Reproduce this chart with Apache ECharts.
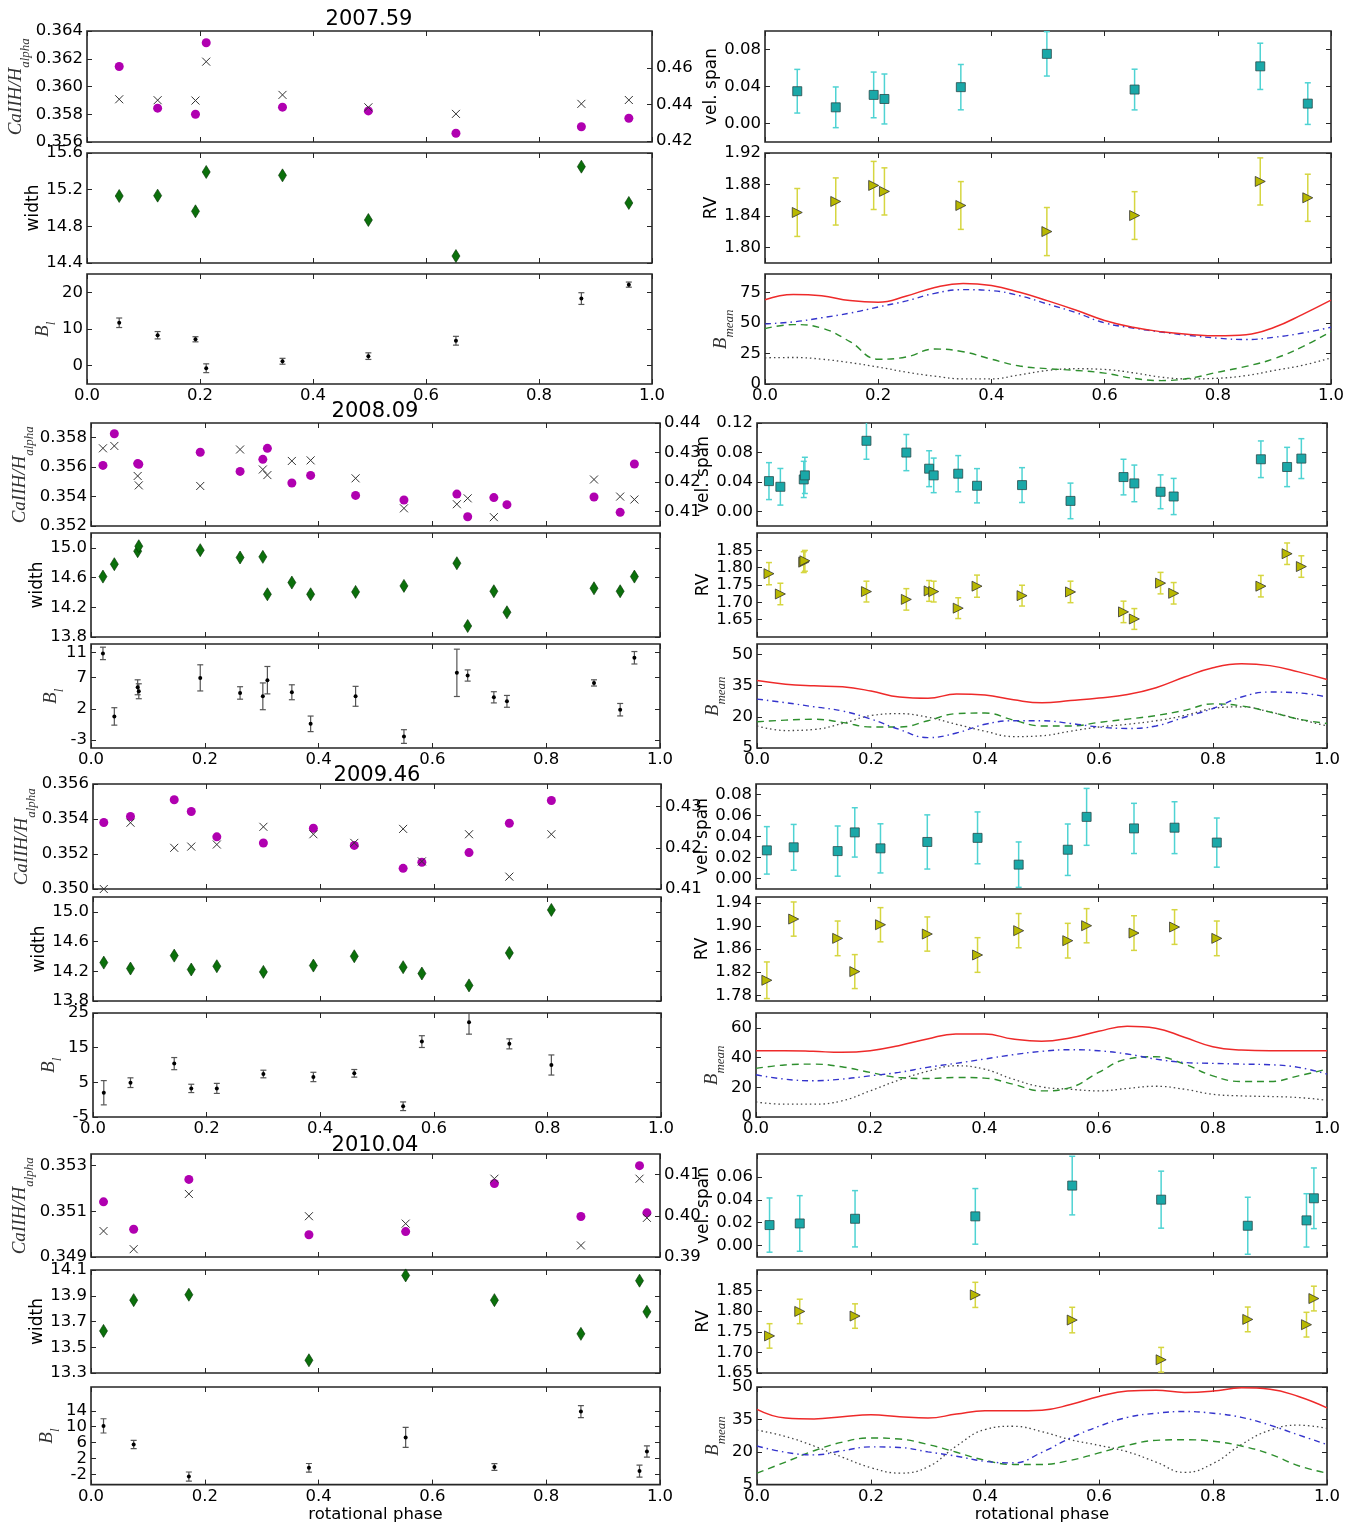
<!DOCTYPE html>
<html><head><meta charset="utf-8">
<script src="https://cdn.jsdelivr.net/npm/echarts@6/dist/echarts.min.js"></script>
<style>html,body{margin:0;padding:0;background:#fff}#c{width:1357px;height:1524px}</style>
</head><body><div id="c"></div><script>
// ---------------- DATA ----------------
const phase_ticks = [0.0, 0.2, 0.4, 0.6, 0.8, 1.0];
const bm_phase = [0,0.05,0.1,0.15,0.2,0.25,0.3,0.35,0.4,0.45,0.5,0.55,0.6,0.65,0.7,0.75,0.8,0.85,0.9,0.95,1.0];

// 2007.59
const e1_phase = [0.057, 0.125, 0.192, 0.211, 0.346, 0.498, 0.653, 0.875, 0.959];
const e1_caii = [0.36144, 0.35844, 0.3580, 0.36315, 0.35851, 0.35824, 0.35663, 0.3571, 0.35771];
const e1_cross = [0.4429, 0.4424, 0.4422, 0.4635, 0.4453, 0.4385, 0.4349, 0.4404, 0.4425];
const e1_width = [15.131, 15.135, 14.964, 15.393, 15.356, 14.869, 14.476, 15.451, 15.055];
const e1_bl = [11.7, 8.3, 7.2, -0.7, 1.2, 2.6, 6.8, 18.3, 22.1];
const e1_bl_err = [1.3, 1.0, 0.7, 1.2, 0.8, 0.9, 1.2, 1.6, 0.7];
const e1_vspan = [0.0349, 0.0175, 0.0309, 0.0265, 0.0393, 0.0753, 0.0367, 0.0618, 0.0215];
const e1_vspan_err = [0.0236, 0.022, 0.0247, 0.027, 0.0245, 0.024, 0.022, 0.025, 0.0225];
const e1_rv = [1.8443, 1.8583, 1.8787, 1.8711, 1.8532, 1.82, 1.8404, 1.8838, 1.8630];
const e1_rv_err = [0.0305, 0.030, 0.0306, 0.030, 0.0304, 0.0306, 0.0304, 0.030, 0.030];
const e1_bm_red = [68.9,73.3,72.2,68.3,66.9,72.0,79.0,82.3,80.5,75.0,68.0,60.3,52.0,46.4,42.8,40.6,39.4,40.3,46.4,57.0,68.6];
const e1_bm_blue = [49.2,50.8,54.2,58.0,63.0,68.0,74.2,77.2,76.4,72.2,65.3,58.3,50.0,45.8,42.5,39.7,37.5,36.4,38.3,41.7,46.4];
const e1_bm_green = [45.3,48.6,45.8,34.7,20.3,22.2,28.6,26.4,20.3,14.7,12.5,11.1,8.9,4.7,2.8,4.7,9.7,14.4,20.8,30.6,43.0];
const e1_bm_black = [21.4,21.7,20.3,17.5,13.9,9.7,6.4,4.2,4.2,7.5,11.1,12.5,11.9,9.2,5.6,4.2,4.7,6.9,11.1,15.3,21.4];
const e1_caii_ticks = [0.356, 0.358, 0.360, 0.362, 0.364];
const e1_cross_ticks = [0.42, 0.44, 0.46];
const e1_width_ticks = [14.4, 14.8, 15.2, 15.6];
const e1_bl_ticks = [0, 10, 20];
const e1_vspan_ticks = [0.00, 0.04, 0.08];
const e1_rv_ticks = [1.80, 1.84, 1.88, 1.92];
const e1_bm_ticks = [0, 25, 50, 75];

// 2008.09
const e2_phase = [0.021,0.041,0.082,0.084,0.192,0.262,0.302,0.310,0.353,0.386,0.465,0.550,0.643,0.662,0.708,0.731,0.884,0.930,0.955];
const e2_caii = [0.35612,0.35827,0.35624,0.35620,0.35701,0.35571,0.35653,0.35728,0.35492,0.35544,0.35408,0.35377,0.35417,0.35263,0.35393,0.35345,0.35397,0.35293,0.35621];
const e2_cross = [0.4314,0.4322,0.4220,0.4188,0.4186,0.4310,0.4242,0.4223,0.4271,0.4273,0.4212,0.4110,0.4124,0.4144,0.4080,null,0.4208,0.4150,0.4140];
const e2_width = [14.613,14.780,14.955,15.022,14.969,14.870,14.879,14.375,14.533,14.375,14.407,14.488,14.793,13.948,14.416,14.133,14.456,14.416,14.613];
const e2_bl = [10.89,0.77,5.45,4.81,6.96,4.54,4.0,6.59,4.65,-0.42,4.0,-2.46,7.77,7.34,3.84,3.19,6.15,1.85,10.19];
const e2_bl_err = [1.0,1.4,1.2,1.2,2.1,1.0,2.15,2.2,1.2,1.25,1.6,1.1,3.8,0.9,0.9,0.95,0.5,1.0,1.0];
const e2_vspan = [0.0410,0.0333,0.0433,0.0488,0.0958,0.0798,0.0579,0.0488,0.0511,0.0347,0.0356,0.0141,0.0465,0.0379,0.0265,0.0201,0.0707,0.0602,0.0716];
const e2_vspan_err = [0.0251,0.0249,0.0246,0.0246,0.0251,0.0246,0.0244,0.0235,0.0246,0.0233,0.0237,0.0242,0.0242,0.0249,0.023,0.0246,0.0249,0.0267,0.0271];
const e2_rv = [1.7827,1.7241,1.8159,1.8198,1.7310,1.7085,1.7329,1.7310,1.6832,1.7466,1.7193,1.7300,1.6724,1.6520,1.7554,1.7261,1.7466,1.8402,1.8032];
const e2_rv_err = [0.032,0.031,0.03,0.03,0.030,0.031,0.030,0.030,0.030,0.032,0.030,0.031,0.031,0.030,0.031,0.031,0.031,0.031,0.031];
const e2_bm_red = [37.4,35.7,34.9,34.4,32.4,29.5,28.9,31.0,30.5,28.2,26.7,27.8,29.0,30.7,34.0,39.1,43.6,45.5,44.6,41.6,37.9];
const e2_bm_blue = [28.5,26.8,24.8,22.8,18.9,13.9,10.0,12.2,16.4,18.1,18.1,16.8,15.1,14.4,15.6,19.8,24.0,29.5,31.9,31.5,29.5];
const e2_bm_green = [17.6,18.4,18.8,17.3,15.1,15.1,18.1,21.5,21.8,18.4,15.6,15.6,17.3,18.9,20.6,23.1,26.2,25.2,22.3,18.9,16.8];
const e2_bm_black = [15.6,13.4,13.9,16.8,20.6,21.5,19.8,16.4,13.1,10.5,10.9,13.1,15.1,16.4,18.1,20.6,24.0,24.8,22.3,18.9,15.6];
const e2_caii_ticks = [0.352, 0.354, 0.356, 0.358];
const e2_cross_ticks = [0.41, 0.42, 0.43, 0.44];
const e2_width_ticks = [13.8, 14.2, 14.6, 15.0];
const e2_bl_ticks = [-3, 2, 7, 11];
const e2_vspan_ticks = [0.00, 0.04, 0.08, 0.12];
const e2_rv_ticks = [1.65, 1.70, 1.75, 1.80, 1.85];
const e2_bm_ticks = [5, 20, 35, 50];

// 2009.46
const e3_phase = [0.019,0.066,0.143,0.173,0.218,0.300,0.388,0.460,0.546,0.579,0.662,0.733,0.807];
const e3_caii = [0.3538,0.35414,0.3551,0.35443,0.35298,0.35263,0.35347,0.35249,0.35118,0.35153,0.35208,0.35376,0.35506];
const e3_cross = [0.4100,0.4261,0.4200,0.4203,0.4208,0.4251,0.4233,0.4212,0.4246,0.4167,0.4233,0.4130,0.4233];
const e3_width = [14.317,14.237,14.411,14.224,14.268,14.192,14.277,14.402,14.255,14.170,14.010,14.447,15.026];
const e3_bl = [2.0,4.9,10.4,3.25,3.25,7.4,6.55,7.6,-1.9,16.75,22.3,16.1,10.0];
const e3_bl_err = [3.5,1.4,1.75,1.2,1.45,1.1,1.35,1.1,1.25,1.7,3.4,1.45,2.9];
const e3_vspan = [0.0268,0.0297,0.0261,0.0439,0.0287,0.0348,0.0387,0.0132,0.0274,0.0587,0.0477,0.0484,0.0342];
const e3_vspan_err = [0.0226,0.0218,0.0239,0.0235,0.0234,0.0258,0.0247,0.0216,0.0245,0.0271,0.0239,0.0247,0.0234];
const e3_rv = [1.8059,1.9118,1.8784,1.8209,1.9020,1.8859,1.8496,1.8917,1.8744,1.9003,1.8876,1.8980,1.8784];
const e3_rv_err = [0.0317,0.0296,0.030,0.0294,0.0296,0.0296,0.030,0.0296,0.030,0.0296,0.030,0.030,0.030];
const e3_bm_red = [44.6,44.6,44.2,43.5,44.6,48.0,52.5,55.9,55.9,52.5,51.0,53.2,57.7,61.1,59.8,53.7,47.3,45.1,44.6,44.6,44.6];
const e3_bm_blue = [28.4,25.5,24.4,25.5,27.7,30.0,33.4,36.1,39.0,41.9,44.2,45.3,44.6,42.4,39.0,36.7,36.1,35.6,35.2,33.4,28.9];
const e3_bm_green = [32.7,35.0,35.6,33.8,30.0,26.6,25.9,26.6,26.2,22.1,17.6,19.8,30.0,39.0,40.6,35.6,27.7,23.9,23.9,27.7,32.2];
const e3_bm_black = [10.1,8.6,8.6,10.8,17.6,24.8,30.7,34.5,32.2,25.5,20.3,18.7,17.6,19.2,20.7,18.7,15.3,14.2,13.8,13.1,11.3];
const e3_caii_ticks = [0.350, 0.352, 0.354, 0.356];
const e3_cross_ticks = [0.41, 0.42, 0.43];
const e3_width_ticks = [13.8, 14.2, 14.6, 15.0];
const e3_bl_ticks = [-5, 5, 15, 25];
const e3_vspan_ticks = [0.00, 0.02, 0.04, 0.06, 0.08];
const e3_rv_ticks = [1.78, 1.82, 1.86, 1.90, 1.94];
const e3_bm_ticks = [0, 20, 40, 60];

// 2010.04
const e4_phase = [0.022,0.075,0.172,0.383,0.553,0.709,0.861,0.964,0.977];
const e4_caii = [0.35141,0.35021,0.35239,0.34997,0.35011,0.35221,0.35077,0.35299,0.35093];
const e4_cross = [0.3963,0.3919,0.4053,0.3999,0.3981,0.4090,0.3928,0.4090,0.3995];
const e4_width = [13.627,13.866,13.908,13.399,14.058,13.866,13.604,14.017,13.775];
const e4_bl = [10.2,5.5,-2.57,-0.38,7.3,-0.14,13.8,-1.2,3.74];
const e4_bl_err = [1.8,1.05,1.15,1.1,2.5,0.85,1.5,1.5,1.4];
const e4_vspan = [0.0179,0.0193,0.0234,0.0255,0.0524,0.0401,0.0173,0.0220,0.0413];
const e4_vspan_err = [0.0237,0.0243,0.0246,0.0243,0.0256,0.0249,0.0249,0.0233,0.0265];
const e4_rv = [1.74,1.7994,1.7882,1.8396,1.7785,1.6821,1.7801,1.7673,1.8307];
const e4_rv_err = [0.0297,0.0297,0.0297,0.0305,0.031,0.03,0.030,0.030,0.030];
const e4_bm_red = [39.7,35.7,35.3,36.3,37.2,36.3,35.7,37.5,39.0,39.0,39.3,41.9,45.6,48.1,48.5,47.5,48.1,49.6,49.0,45.6,40.4];
const e4_bm_blue = [22.8,19.9,18.7,20.6,22.4,22.1,20.1,18.1,15.7,15.0,19.9,26.5,31.9,36.0,37.9,38.7,37.9,36.0,32.4,27.9,23.5];
const e4_bm_green = [10.3,15.4,20.6,24.6,26.5,26.0,23.5,19.9,16.2,14.3,14.3,16.2,19.6,23.1,25.4,25.7,25.0,22.8,19.1,13.7,10.3];
const e4_bm_black = [30.1,27.2,22.8,17.6,12.8,10.3,13.2,22.8,30.4,31.9,29.4,25.7,23.1,20.1,15.4,10.6,14.7,23.5,30.1,32.4,30.9];
const e4_caii_ticks = [0.349, 0.351, 0.353];
const e4_cross_ticks = [0.39, 0.40, 0.41];
const e4_width_ticks = [13.3, 13.5, 13.7, 13.9, 14.1];
const e4_bl_ticks = [-2, 2, 6, 10, 14];
const e4_vspan_ticks = [0.00, 0.02, 0.04, 0.06];
const e4_rv_ticks = [1.65, 1.70, 1.75, 1.80, 1.85];
const e4_bm_ticks = [5, 20, 35, 50];

// ---------------- CHART ----------------
const SANS = 'DejaVu Sans';
const FS = 16.5;
const option = {animation:false, backgroundColor:'#ffffff', grid:[], xAxis:[], yAxis:[], series:[], graphic:[]};
const fmt = d => (v => Number(v).toFixed(d));
const tickStyle = {inside:true, length:5, lineStyle:{color:'#262626', width:1}};
const noLine = {show:false, onZero:false};
const labelBase = {fontFamily:SANS, fontSize:FS, color:'#000', margin:4, lineHeight:12, hideOverlap:false, showMinLabel:true, showMaxLabel:true};
const mathStyle = {rich:{
  m:{fontFamily:'Liberation Serif', fontStyle:'italic', fontSize:19, lineHeight:19, verticalAlign:'top', color:'#333'},
  s:{fontFamily:'Liberation Serif', fontStyle:'italic', fontSize:13, lineHeight:13, verticalAlign:'bottom', color:'#333'},
  g:{fontSize:2, lineHeight:25, verticalAlign:'bottom'}
}};
const sansName = {fontFamily:SANS, fontSize:17, color:'#000'};
const evens = a => a.filter((v, i) => i % 2 === 0);
const odds = a => a.filter((v, i) => i % 2 === 1);

function panel(box, top, height, cfg) {
  const gi = option.grid.length;
  option.grid.push({left:box.left, top:top, width:box.width, height:height, show:true,
    borderColor:'#262626', borderWidth:1.6, backgroundColor:'rgba(0,0,0,0)'});
  const xi = option.xAxis.length;
  option.xAxis.push({type:'value', gridIndex:gi, position:'bottom', min:0, max:1,
    axisLine:noLine, splitLine:{show:false},
    axisTick:Object.assign({}, tickStyle, {customValues:phase_ticks}),
    axisLabel:Object.assign({show:!!cfg.xLabels, customValues:phase_ticks, formatter:fmt(1)}, labelBase, {lineHeight:16}),
    name:cfg.xName || '', nameLocation:'middle', nameGap:19, nameTextStyle:{fontFamily:SANS, fontSize:FS, color:'#000'}});
  option.xAxis.push({type:'value', gridIndex:gi, position:'top', min:0, max:1,
    axisLine:noLine, splitLine:{show:false},
    axisTick:Object.assign({}, tickStyle, {customValues:phase_ticks}), axisLabel:{show:false}});
  const yi = option.yAxis.length;
  // main left axis: ticks at every value, labels at alternate values (others on a companion axis)
  option.yAxis.push({type:'value', gridIndex:gi, position:'left', min:cfg.y[0], max:cfg.y[1],
    axisLine:noLine, splitLine:{show:false},
    axisTick:Object.assign({}, tickStyle, {customValues:cfg.ticks}),
    axisLabel:Object.assign({customValues:evens(cfg.ticks), formatter:fmt(cfg.dec)}, labelBase),
    name:cfg.name, nameLocation:'middle', nameRotate:90, nameGap:cfg.gap, nameTextStyle:cfg.nameStyle});
  if (cfg.twin) {
    option.yAxis.push({type:'value', gridIndex:gi, position:'right', min:cfg.twin.y[0], max:cfg.twin.y[1],
      axisLine:noLine, splitLine:{show:false},
      axisTick:Object.assign({}, tickStyle, {customValues:cfg.twin.ticks}),
      axisLabel:Object.assign({customValues:cfg.twin.ticks, formatter:fmt(2)}, labelBase)});
  } else {
    option.yAxis.push({type:'value', gridIndex:gi, position:'right', min:cfg.y[0], max:cfg.y[1],
      axisLine:noLine, splitLine:{show:false},
      axisTick:Object.assign({}, tickStyle, {customValues:cfg.ticks}), axisLabel:{show:false}});
  }
  // companion left axis carrying the remaining labels
  option.yAxis.push({type:'value', gridIndex:gi, position:'left', offset:0, min:cfg.y[0], max:cfg.y[1],
    axisLine:noLine, splitLine:{show:false}, axisTick:{show:false},
    axisLabel:Object.assign({customValues:odds(cfg.ticks), formatter:fmt(cfg.dec)}, labelBase)});
  return {xi:xi, yi:yi, yi2:yi+1};
}

function scatter(ax, xs, ys, style, twin) {
  const data = [];
  xs.forEach((x, i) => { if (ys[i] != null) data.push([x, ys[i]]); });
  option.series.push(Object.assign({type:'scatter', xAxisIndex:ax.xi, yAxisIndex:twin ? ax.yi2 : ax.yi,
    data:data, z:3, silent:true, clip:false}, style));
}

function errbars(ax, xs, ys, es, color, lw) {
  option.series.push({type:'custom', xAxisIndex:ax.xi, yAxisIndex:ax.yi, clip:true, z:2, silent:true,
    data:xs.map((x, i) => [x, ys[i], es[i]]), encode:{x:0, y:1},
    renderItem:function(params, api) {
      const x = api.value(0), y = api.value(1), e = api.value(2);
      const lo = api.coord([x, y - e]), hi = api.coord([x, y + e]);
      const st = {stroke:color, lineWidth:lw, fill:null};
      const c = 3;
      return {type:'group', children:[
        {type:'line', shape:{x1:lo[0], y1:lo[1], x2:hi[0], y2:hi[1]}, style:st},
        {type:'line', shape:{x1:lo[0]-c, y1:lo[1], x2:lo[0]+c, y2:lo[1]}, style:st},
        {type:'line', shape:{x1:hi[0]-c, y1:hi[1], x2:hi[0]+c, y2:hi[1]}, style:st}
      ]};
    }});
}

function curve(ax, ys, color, type, width) {
  option.series.push({type:'line', xAxisIndex:ax.xi, yAxisIndex:ax.yi, data:bm_phase.map((x, i) => [x, ys[i]]),
    showSymbol:false, smooth:0.45, silent:true, z:3,
    lineStyle:{color:color, type:type, width:width, opacity:1}});
}

const circleStyle = {symbol:'circle', symbolSize:9, itemStyle:{color:'#b000b0', opacity:1}};
const crossStyle = {symbol:'path://M0,0L10,10M10,0L0,10', symbolSize:8, z:4,
  itemStyle:{color:'rgba(0,0,0,0)', borderColor:'#333', borderWidth:1, opacity:1}};
const diamondStyle = {symbol:'diamond', symbolSize:[8, 13], itemStyle:{color:'#0b700b', borderColor:'#033303', borderWidth:0.6, opacity:1}};
const dotStyle = {symbol:'circle', symbolSize:4, itemStyle:{color:'#000', opacity:1}};
const squareStyle = {symbol:'rect', symbolSize:9, itemStyle:{color:'#1aa8a8', borderColor:'#2a4a4a', borderWidth:0.8, opacity:1}};
const triStyle = {symbol:'triangle', symbolSize:[10, 10], symbolRotate:-90, itemStyle:{color:'#b8b800', borderColor:'#333', borderWidth:0.8, opacity:1}};

const G = {ca:51, width:43, bl:25, vel:44, rv:44, bm:27};

function buildEpoch(E) {
  const rA = E.rows[0], rB = E.rows[1], rC = E.rows[2];
  let ax = panel(E.L, rA[0], rA[1], {y:E.caiiRange, ticks:E.caiiTicks, dec:3,
    name:'{m|CaIIH/H}{s|alpha}{g| }', gap:G.ca, nameStyle:mathStyle, twin:{y:E.crossRange, ticks:E.crossTicks}});
  scatter(ax, E.phase, E.caii, circleStyle);
  scatter(ax, E.phase, E.cross, crossStyle, true);
  ax = panel(E.L, rB[0], rB[1], {y:E.widthRange, ticks:E.widthTicks, dec:1, name:'width', gap:G.width, nameStyle:sansName});
  scatter(ax, E.phase, E.width, diamondStyle);
  ax = panel(E.L, rC[0], rC[1], {y:E.blRange, ticks:E.blTicks, dec:0, name:'{m|B}{s|l}{g| }', gap:G.bl, nameStyle:mathStyle,
    xLabels:true, xName:E.last ? 'rotational phase' : ''});
  errbars(ax, E.phase, E.bl, E.blErr, '#555', 1.2);
  scatter(ax, E.phase, E.bl, dotStyle);

  ax = panel(E.R, rA[0], rA[1], {y:E.vsRange, ticks:E.vsTicks, dec:2, name:'vel. span', gap:G.vel, nameStyle:sansName});
  errbars(ax, E.phase, E.vs, E.vsErr, '#4fd3d3', 1.5);
  scatter(ax, E.phase, E.vs, squareStyle);
  ax = panel(E.R, rB[0], rB[1], {y:E.rvRange, ticks:E.rvTicks, dec:2, name:'RV', gap:G.rv, nameStyle:sansName});
  errbars(ax, E.phase, E.rv, E.rvErr, '#d6d640', 1.5);
  scatter(ax, E.phase, E.rv, triStyle);
  ax = panel(E.R, rC[0], rC[1], {y:E.bmRange, ticks:E.bmTicks, dec:0, name:'{m|B}{s|mean}{g| }', gap:G.bm, nameStyle:mathStyle,
    xLabels:true, xName:E.last ? 'rotational phase' : ''});
  curve(ax, E.bmBlack, '#444', [1.5, 3], 1.3);
  curve(ax, E.bmGreen, '#2e8f2e', [7, 5], 1.4);
  curve(ax, E.bmBlue, '#3434cc', [6, 4, 1.5, 4], 1.4);
  curve(ax, E.bmRed, '#ee2a2a', 'solid', 1.5);

  option.graphic.push({type:'text', x:E.titleX, y:E.titleY, silent:true,
    style:{text:E.title, fontFamily:SANS, fontSize:21, fill:'#000', align:'center', verticalAlign:'middle', textAlign:'center', textVerticalAlign:'middle'}});
}

buildEpoch({title:'2007.59', titleX:369, titleY:20, L:{left:87, width:565}, R:{left:765, width:566},
  rows:[[31,111],[153,110],[274,110]],
  phase:e1_phase, caii:e1_caii, cross:e1_cross, width:e1_width, bl:e1_bl, blErr:e1_bl_err,
  vs:e1_vspan, vsErr:e1_vspan_err, rv:e1_rv, rvErr:e1_rv_err,
  bmRed:e1_bm_red, bmBlue:e1_bm_blue, bmGreen:e1_bm_green, bmBlack:e1_bm_black,
  caiiRange:[0.356, 0.364], caiiTicks:e1_caii_ticks, crossRange:[0.4195, 0.4803], crossTicks:e1_cross_ticks,
  widthRange:[14.4, 15.6], widthTicks:e1_width_ticks, blRange:[-5, 25], blTicks:e1_bl_ticks,
  vsRange:[-0.02, 0.10], vsTicks:e1_vspan_ticks, rvRange:[1.78, 1.92], rvTicks:e1_rv_ticks,
  bmRange:[0, 90], bmTicks:e1_bm_ticks});

buildEpoch({title:'2008.09', titleX:375, titleY:412, L:{left:91, width:569}, R:{left:757, width:570},
  rows:[[423,103],[533,104],[644,104]],
  phase:e2_phase, caii:e2_caii, cross:e2_cross, width:e2_width, bl:e2_bl, blErr:e2_bl_err,
  vs:e2_vspan, vsErr:e2_vspan_err, rv:e2_rv, rvErr:e2_rv_err,
  bmRed:e2_bm_red, bmBlue:e2_bm_blue, bmGreen:e2_bm_green, bmBlack:e2_bm_black,
  caiiRange:[0.352, 0.359], caiiTicks:e2_caii_ticks, crossRange:[0.405, 0.44], crossTicks:e2_cross_ticks,
  widthRange:[13.8, 15.2], widthTicks:e2_width_ticks, blRange:[-4.3, 12.4], blTicks:e2_bl_ticks,
  vsRange:[-0.02, 0.12], vsTicks:e2_vspan_ticks, rvRange:[1.60, 1.90], rvTicks:e2_rv_ticks,
  bmRange:[5, 55], bmTicks:e2_bm_ticks});

buildEpoch({title:'2009.46', titleX:377, titleY:776, L:{left:93, width:568}, R:{left:756, width:571},
  rows:[[784,105],[897,104],[1013,104]],
  phase:e3_phase, caii:e3_caii, cross:e3_cross, width:e3_width, bl:e3_bl, blErr:e3_bl_err,
  vs:e3_vspan, vsErr:e3_vspan_err, rv:e3_rv, rvErr:e3_rv_err,
  bmRed:e3_bm_red, bmBlue:e3_bm_blue, bmGreen:e3_bm_green, bmBlack:e3_bm_black,
  caiiRange:[0.350, 0.356], caiiTicks:e3_caii_ticks, crossRange:[0.41, 0.4355], crossTicks:e3_cross_ticks,
  widthRange:[13.8, 15.2], widthTicks:e3_width_ticks, blRange:[-5, 25], blTicks:e3_bl_ticks,
  vsRange:[-0.01, 0.09], vsTicks:e3_vspan_ticks, rvRange:[1.77, 1.95], rvTicks:e3_rv_ticks,
  bmRange:[0, 70], bmTicks:e3_bm_ticks});

buildEpoch({title:'2010.04', titleX:375, titleY:1146, last:true, L:{left:91, width:569}, R:{left:757, width:570},
  rows:[[1154,103],[1270,103],[1387,102]],
  phase:e4_phase, caii:e4_caii, cross:e4_cross, width:e4_width, bl:e4_bl, blErr:e4_bl_err,
  vs:e4_vspan, vsErr:e4_vspan_err, rv:e4_rv, rvErr:e4_rv_err,
  bmRed:e4_bm_red, bmBlue:e4_bm_blue, bmGreen:e4_bm_green, bmBlack:e4_bm_black,
  caiiRange:[0.349, 0.3535], caiiTicks:e4_caii_ticks, crossRange:[0.39, 0.415], crossTicks:e4_cross_ticks,
  widthRange:[13.3, 14.1], widthTicks:e4_width_ticks, blRange:[-4.6, 20], blTicks:e4_bl_ticks,
  vsRange:[-0.01, 0.08], vsTicks:e4_vspan_ticks, rvRange:[1.65, 1.90], rvTicks:e4_rv_ticks,
  bmRange:[5, 50], bmTicks:e4_bm_ticks});

const chart = echarts.init(document.getElementById('c'), null, {renderer:'canvas'});
chart.setOption(option);
</script></body></html>
